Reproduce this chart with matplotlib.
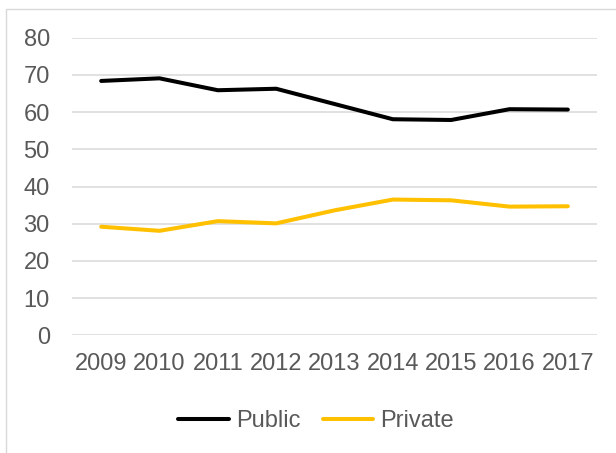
"""Public vs private share line chart, 2009-2017."""

import matplotlib

matplotlib.use("Agg")
import matplotlib.pyplot as plt
from matplotlib.patches import Rectangle

years = ["2009", "2010", "2011", "2012", "2013", "2014", "2015", "2016", "2017"]
public = [68.4, 69.1, 65.9, 66.3, 62.2, 58.1, 57.9, 60.8, 60.7]
private = [29.2, 28.1, 30.7, 30.1, 33.6, 36.5, 36.3, 34.6, 34.7]
y_ticks = [0, 10, 20, 30, 40, 50, 60, 70, 80]

TEXT = "#595959"
GRID = "#D9D9D9"

plt.rcParams["font.family"] = ["Liberation Sans", "DejaVu Sans"]

fig = plt.figure(figsize=(6.16, 4.53), dpi=100)
ax = fig.add_axes([72 / 616, 1 - 335.3 / 453, 525 / 616, 297.5 / 453])

x = range(len(years))
ax.plot(x, public, color="black", linewidth=2.9, solid_capstyle="round",
        solid_joinstyle="round", label="Public", zorder=3)
ax.plot(x, private, color="#FFC000", linewidth=2.9, solid_capstyle="round",
        solid_joinstyle="round", label="Private", zorder=3)

ax.set_xlim(-0.5, len(years) - 0.5)
ax.set_ylim(0, 80)
ax.set_xticks(list(x))
ax.set_xticklabels(years)
ax.set_yticks(y_ticks)
ax.grid(True, axis="y", color=GRID, linewidth=1.1)
ax.set_axisbelow(True)
for side in ax.spines.values():
    side.set_visible(False)
ax.tick_params(axis="both", length=0, labelsize=17, labelcolor=TEXT)
ax.tick_params(axis="y", pad=16)
ax.tick_params(axis="x", pad=13)

fig.legend(
    loc="center",
    bbox_to_anchor=(316 / 616, 1 - 421 / 453),
    ncol=2,
    frameon=False,
    fontsize=17,
    labelcolor=TEXT,
    handlelength=2.15,
    handletextpad=0.3,
    columnspacing=0.95,
)

fig.add_artist(Rectangle((5.5 / 616, -0.1), 1.2, 1.1 - 9 / 453,
                         transform=fig.transFigure, fill=False,
                         edgecolor=GRID, linewidth=1.0))

fig.savefig("out.png", dpi=100)
plt.close(fig)
